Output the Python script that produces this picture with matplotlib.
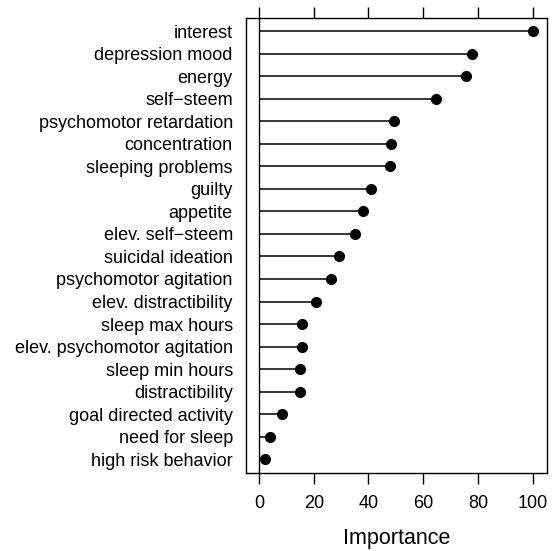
import matplotlib
matplotlib.use("Agg")
import matplotlib.pyplot as plt

features = ["interest", "depression mood", "energy", "self\u2212steem",
            "psychomotor retardation", "concentration", "sleeping problems",
            "guilty", "appetite", "elev. self\u2212steem", "suicidal ideation",
            "psychomotor agitation", "elev. distractibility", "sleep max hours",
            "elev. psychomotor agitation", "sleep min hours", "distractibility",
            "goal directed activity", "need for sleep", "high risk behavior"]
importance = [100, 77.9, 75.5, 64.5, 49.2, 48.4, 47.9, 41.0, 37.9, 35.2,
              29.3, 26.3, 20.8, 15.8, 15.8, 15.1, 15.0, 8.4, 3.9, 2.1]
xticks = [0, 20, 40, 60, 80, 100]

plt.rcParams['font.family'] = ['Liberation Sans', 'DejaVu Sans']
fig = plt.figure(figsize=(5.55, 5.51), dpi=100)
W, H = 555, 551
ax = fig.add_axes([246 / W, (H - 472.7) / H, 300.7 / W, 455 / H])

n = len(features)
ypos = list(range(n, 0, -1))
ax.axvline(0, color='black', lw=1.0, zorder=1)
ax.hlines(ypos, 0, importance, color='black', lw=1.1, zorder=2)
ax.plot(importance, ypos, 'o', color='black', ms=7.0, zorder=3)

ax.set_xlim(-4.75, 105.1)
ax.set_ylim(0.4, n + 0.6)
ax.set_yticks(ypos)
ax.set_yticklabels(features, fontsize=13)
ax.set_xticks(xticks)
ax.set_xticklabels([str(t) for t in xticks], fontsize=13)
ax.tick_params(axis='y', length=0, pad=9.5)
ax.tick_params(axis='x', direction='out', length=8.2, width=1.0, pad=7.5,
               top=True, labeltop=False)
for s in ax.spines.values():
    s.set_linewidth(1.0)
ax.set_xlabel("Importance", fontsize=15.5, labelpad=12)

fig.savefig("out.png", dpi=100)
